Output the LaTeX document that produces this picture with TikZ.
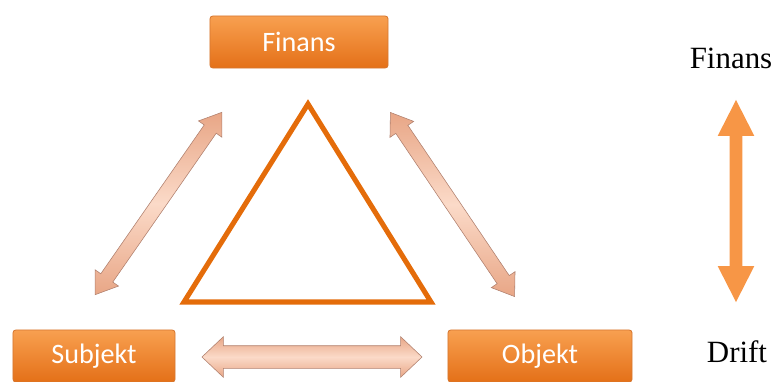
\documentclass[tikz,border=0pt]{standalone}
\usepackage{fontspec}
\setmainfont{Liberation Serif}
\newfontfamily\boxfont{Carlito}
\usetikzlibrary{arrows.meta, positioning, shapes.arrows, calc}
\definecolor{boxtop}{RGB}{248, 160, 80}
\definecolor{boxbot}{RGB}{228, 112, 24}
\definecolor{boxline}{RGB}{214, 120, 50}
\definecolor{trianglecol}{RGB}{228, 108, 10}
\definecolor{peachlight}{RGB}{251, 218, 200}
\definecolor{peachdark}{RGB}{232, 166, 134}
\definecolor{peachline}{RGB}{176, 128, 110}
\definecolor{levelcol}{RGB}{247, 150, 70}

\begin{document}
\begin{tikzpicture}[
			x=0.025cm, y=-0.025cm,
			unit/.style={rectangle, draw=boxline, line width=0.6pt, rounded corners=2pt, top color=boxtop, bottom color=boxbot, text=white, font=\boxfont\fontsize{20}{23}\selectfont, minimum height=1.3cm, inner sep=0pt},
			link/.style={double arrow, draw=peachline, line width=0.4pt, top color=peachdark, bottom color=peachdark, middle color=peachlight, inner xsep=0pt, inner ysep=0.175cm, double arrow head extend=0.175cm, double arrow tip angle=70, minimum height=5.55cm},
			widelink/.style={link, inner ysep=0.275cm, double arrow head extend=0.225cm, double arrow tip angle=87, minimum height=5.5cm},
			level/.style={double arrow, fill=levelcol, inner xsep=0pt, inner ysep=0.15cm, double arrow head extend=0.3cm, double arrow tip angle=54, minimum height=5.05cm, rotate=90},
			tag/.style={font=\fontsize{22}{26}\selectfont, inner sep=0pt}
		]
		\useasboundingbox (0,0) rectangle (775,381);
		% Boxes
		\node[unit, minimum width=4.45cm] (finans) at (299,42) {Finans};
		\node[unit, minimum width=4.05cm] (subjekt) at (94,356) {Subjekt};
		\node[unit, minimum width=4.6cm] (objekt) at (540,356) {Objekt};
		
		% Triangle
		\coordinate (top) at (308,104);
		\coordinate (bl) at (184,302);
		\coordinate (br) at (431,302);
		\draw[trianglecol, line width=3.6pt, line join=miter] (top) -- (bl) -- (br) -- cycle;
		
		% Links between the boxes
		\coordinate (l1) at (95,295);
		\coordinate (l2) at (222,112);
		\coordinate (r1) at (390,112);
		\coordinate (r2) at (515,297);
		\coordinate (b1) at (202,357);
		\coordinate (b2) at (422,357);
		\node[link, rotate=55.2] (linkleft) at ($(l1)!0.5!(l2)$) {};
		\node[link, rotate=-56] (linkright) at ($(r1)!0.5!(r2)$) {};
		\node[widelink] (linkbottom) at ($(b1)!0.5!(b2)$) {};
		
		% Level scale
		\node[tag] (hi) at (731,58) {Finans};
		\node[tag] (lo) at (737,352) {Drift};
		\node[level] (scale) at (736,201) {};
		\end{tikzpicture}
\end{document}
